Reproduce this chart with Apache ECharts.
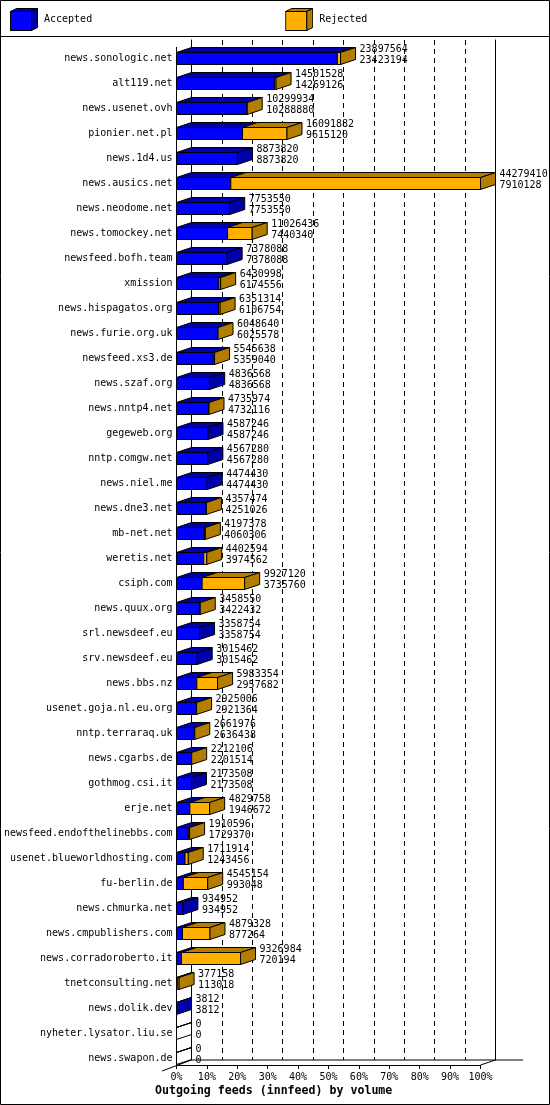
<!DOCTYPE html>
<html>
<head>
<meta charset="utf-8">
<script src="https://cdn.jsdelivr.net/npm/echarts@6/dist/echarts.min.js"></script>
<style>
html,body{margin:0;padding:0;background:#fff;}
#chart{width:550px;height:1105px;}
</style>
</head>
<body>
<div id="chart"></div>
<script>
const categories = [
  "news.sonologic.net","alt119.net","news.usenet.ovh","pionier.net.pl","news.1d4.us",
  "news.ausics.net","news.neodome.net","news.tomockey.net","newsfeed.bofh.team","xmission",
  "news.hispagatos.org","news.furie.org.uk","newsfeed.xs3.de","news.szaf.org","news.nntp4.net",
  "gegeweb.org","nntp.comgw.net","news.niel.me","news.dne3.net","mb-net.net",
  "weretis.net","csiph.com","news.quux.org","srl.newsdeef.eu","srv.newsdeef.eu",
  "news.bbs.nz","usenet.goja.nl.eu.org","nntp.terraraq.uk","news.cgarbs.de","gothmog.csi.it",
  "erje.net","newsfeed.endofthelinebbs.com","usenet.blueworldhosting.com","fu-berlin.de","news.chmurka.net",
  "news.cmpublishers.com","news.corradoroberto.it","tnetconsulting.net","news.dolik.dev","nyheter.lysator.liu.se",
  "news.swapon.de"
];
const offered = [
  23897564,14501528,10299934,16091882,8873820,
  44279410,7753550,11026436,7378088,6430998,
  6351314,6048640,5545638,4836568,4735974,
  4587246,4567280,4474430,4357474,4197378,
  4402594,9927120,3458550,3358754,3015462,
  5983354,2925006,2661976,2212106,2173508,
  4829758,1910596,1711914,4545154,934952,
  4879328,9326984,377158,3812,0,
  0
];
const accepted = [
  23423194,14269126,10288880,9615120,8873820,
  7910128,7753550,7440340,7378088,6174556,
  6106754,6025578,5359040,4836568,4732116,
  4587246,4567280,4474430,4251026,4060306,
  3974562,3735760,3422432,3358754,3015462,
  2957682,2921364,2636438,2201514,2173508,
  1946672,1729370,1243456,993048,934952,
  877264,720194,113018,3812,0,
  0
];
const percentTicks = [0,10,20,30,40,50,60,70,80,90,100];

const maxOffered = Math.max(...offered);
const rows = categories.map((c, i) => [i, accepted[i] / maxOffered * 100, offered[i] / maxOffered * 100]);

const BLUE = '#0000FF', BLUE_D = '#0000A8', ORANGE = '#FFB000', ORANGE_D = '#B37D00';
const DX = 15, DY = 5, HALF = 6;
const FONT = '"DejaVu Sans Mono", monospace';

const G_LEFT = 176.5, G_RIGHT = 69.5, G_TOP = 46, G_H = 1025;

function cube(front, top, side) {
  const s = "<svg xmlns='http://www.w3.org/2000/svg' width='28' height='23'>" +
    "<polygon points='0.5,3.5 6.5,0.5 27.5,0.5 21.5,3.5' fill='" + top + "' stroke='black'/>" +
    "<polygon points='21.5,3.5 27.5,0.5 27.5,19.5 21.5,22.5' fill='" + side + "' stroke='black'/>" +
    "<rect x='0.5' y='3.5' width='21' height='19' fill='" + front + "' stroke='black'/></svg>";
  return 'image://data:image/svg+xml;charset=utf-8,' + encodeURIComponent(s);
}

function renderAccepted(params, api) {
  const i = api.value(0), a = api.value(1), o = api.value(2);
  const p0 = api.coord([0, i]), pa = api.coord([a, i]);
  const yc = p0[1], x0 = p0[0], xa = pa[0];
  const t = yc - HALF, b = yc + HALF;
  const ls = { stroke: '#000', lineWidth: 1 };
  const ch = [];
  const fillOn = offered[i] > 0;
  ch.push({ type: 'polygon', shape: { points: [[x0, t], [xa, t], [xa + DX, t - DY], [x0 + DX, t - DY]] },
    style: Object.assign({ fill: fillOn ? BLUE_D : 'none' }, ls) });
  ch.push({ type: 'rect', shape: { x: x0, y: t, width: xa - x0, height: b - t },
    style: Object.assign({ fill: fillOn ? BLUE : 'none' }, ls) });
  if (o <= a) {
    ch.push({ type: 'polygon', shape: { points: [[xa, t], [xa + DX, t - DY], [xa + DX, b - DY], [xa, b]] },
      style: Object.assign({ fill: fillOn ? BLUE_D : 'none' }, ls) });
  }
  return { type: 'group', children: ch };
}

function renderRejected(params, api) {
  const i = api.value(0), a = api.value(1), o = api.value(2);
  const pa = api.coord([a, i]), po = api.coord([o, i]);
  const yc = pa[1], xa = pa[0], xo = po[0];
  const t = yc - HALF, b = yc + HALF;
  const ls = { stroke: '#000', lineWidth: 1 };
  const ch = [];
  if (o > a) {
    ch.push({ type: 'polygon', shape: { points: [[xa, t], [xo, t], [xo + DX, t - DY], [xa + DX, t - DY]] },
      style: Object.assign({ fill: ORANGE_D }, ls) });
    ch.push({ type: 'rect', shape: { x: xa, y: t, width: xo - xa, height: b - t },
      style: Object.assign({ fill: ORANGE }, ls) });
    ch.push({ type: 'polygon', shape: { points: [[xo, t], [xo + DX, t - DY], [xo + DX, b - DY], [xo, b]] },
      style: Object.assign({ fill: ORANGE_D }, ls) });
  }
  const tx = xo + DX + 4;
  ch.push({ type: 'text', style: { text: String(offered[i]), x: tx, y: yc - 9, fill: '#000',
    font: '10px ' + FONT, align: 'left', verticalAlign: 'middle' } });
  ch.push({ type: 'text', style: { text: String(accepted[i]), x: tx, y: yc + 2, fill: '#000',
    font: '10px ' + FONT, align: 'left', verticalAlign: 'middle' } });
  return { type: 'group', children: ch };
}

const chart = echarts.init(document.getElementById('chart'), null, { renderer: 'canvas' });
const floorY = G_TOP + G_H - 6;       // front floor line
const backX0 = G_LEFT + DX, backX1 = 550 - G_RIGHT + DX;
const backY = floorY - DY;

chart.setOption({
  animation: false,
  backgroundColor: '#fff',
  textStyle: { fontFamily: FONT },
  title: {
    text: 'Outgoing feeds (innfeed) by volume',
    left: 155, top: 1085, padding: 0,
    textStyle: { fontFamily: FONT, fontWeight: 'bold', fontSize: 11.6, color: '#000' }
  },
  legend: {
    left: 10, top: 8, padding: 0, itemWidth: 28, itemHeight: 23, itemGap: 193,
    textStyle: { fontFamily: FONT, fontSize: 10, color: '#000', padding: [2, 0, 0, 1] },
    data: [
      { name: 'Accepted', icon: cube(BLUE, BLUE_D, BLUE_D) },
      { name: 'Rejected', icon: cube(ORANGE, ORANGE_D, ORANGE_D) }
    ]
  },
  grid: [
    { left: G_LEFT, right: G_RIGHT, top: G_TOP, height: G_H },
    { left: backX0, right: G_RIGHT - DX, top: 40, bottom: 1105 - backY }
  ],
  xAxis: [
    { gridIndex: 0, type: 'value', min: 0, max: 100, interval: 10, offset: -6,
      axisLine: { show: true, lineStyle: { color: '#000', width: 1 } },
      axisTick: { show: true, length: 4, lineStyle: { color: '#000' } },
      axisLabel: { formatter: v => percentTicks.includes(v) ? v + '%' : '', margin: 7, fontSize: 10, fontFamily: FONT, color: '#000' },
      splitLine: { show: false } },
    { gridIndex: 1, type: 'value', min: 0, max: 100, interval: 10,
      axisLine: { show: false }, axisTick: { show: false }, axisLabel: { show: false },
      splitLine: { show: true, lineStyle: { color: '#000', width: 1, type: [5, 4] } } }
  ],
  yAxis: [
    { gridIndex: 0, type: 'category', data: categories, inverse: true,
      axisLine: { show: false }, axisTick: { show: false },
      axisLabel: { interval: 0, margin: 4, fontSize: 10, fontFamily: FONT, color: '#000', padding: [2, 0, 0, 0] } },
    { gridIndex: 1, type: 'value', position: 'left', min: 0, max: 1,
      axisLine: { show: true, lineStyle: { color: '#000', width: 1 } },
      axisTick: { show: false }, axisLabel: { show: false }, splitLine: { show: false } },
    { gridIndex: 1, type: 'value', position: 'right', min: 0, max: 1,
      axisLine: { show: true, lineStyle: { color: '#000', width: 1 } },
      axisTick: { show: false }, axisLabel: { show: false }, splitLine: { show: false } }
  ],
  graphic: [
    { type: 'rect', shape: { x: 0.5, y: 0.5, width: 549, height: 1104 }, style: { fill: 'none', stroke: '#000', lineWidth: 1 }, z: 100 },
    { type: 'line', shape: { x1: 0, y1: 36.5, x2: 550, y2: 36.5 }, style: { stroke: '#000', lineWidth: 1 }, z: 100 },
    { type: 'line', shape: { x1: G_LEFT, y1: 47, x2: G_LEFT, y2: floorY }, style: { stroke: '#000', lineWidth: 1 }, z: 1 },
    { type: 'line', shape: { x1: backX0, y1: backY, x2: 523, y2: backY }, style: { stroke: '#000', lineWidth: 1 }, z: 1 },
    { type: 'line', shape: { x1: 162, y1: floorY + 6, x2: backX0, y2: backY }, style: { stroke: '#000', lineWidth: 1 }, z: 1 },
    { type: 'line', shape: { x1: 550 - G_RIGHT, y1: floorY, x2: backX1, y2: backY }, style: { stroke: '#000', lineWidth: 1 }, z: 1 }
  ],
  series: [
    { name: 'Accepted', type: 'custom', xAxisIndex: 0, yAxisIndex: 0, clip: false, z: 5,
      encode: { x: [1, 2], y: 0 }, data: rows, renderItem: renderAccepted },
    { name: 'Rejected', type: 'custom', xAxisIndex: 0, yAxisIndex: 0, clip: false, z: 6,
      encode: { x: [1, 2], y: 0 }, data: rows, renderItem: renderRejected }
  ]
});
</script>
</body>
</html>
